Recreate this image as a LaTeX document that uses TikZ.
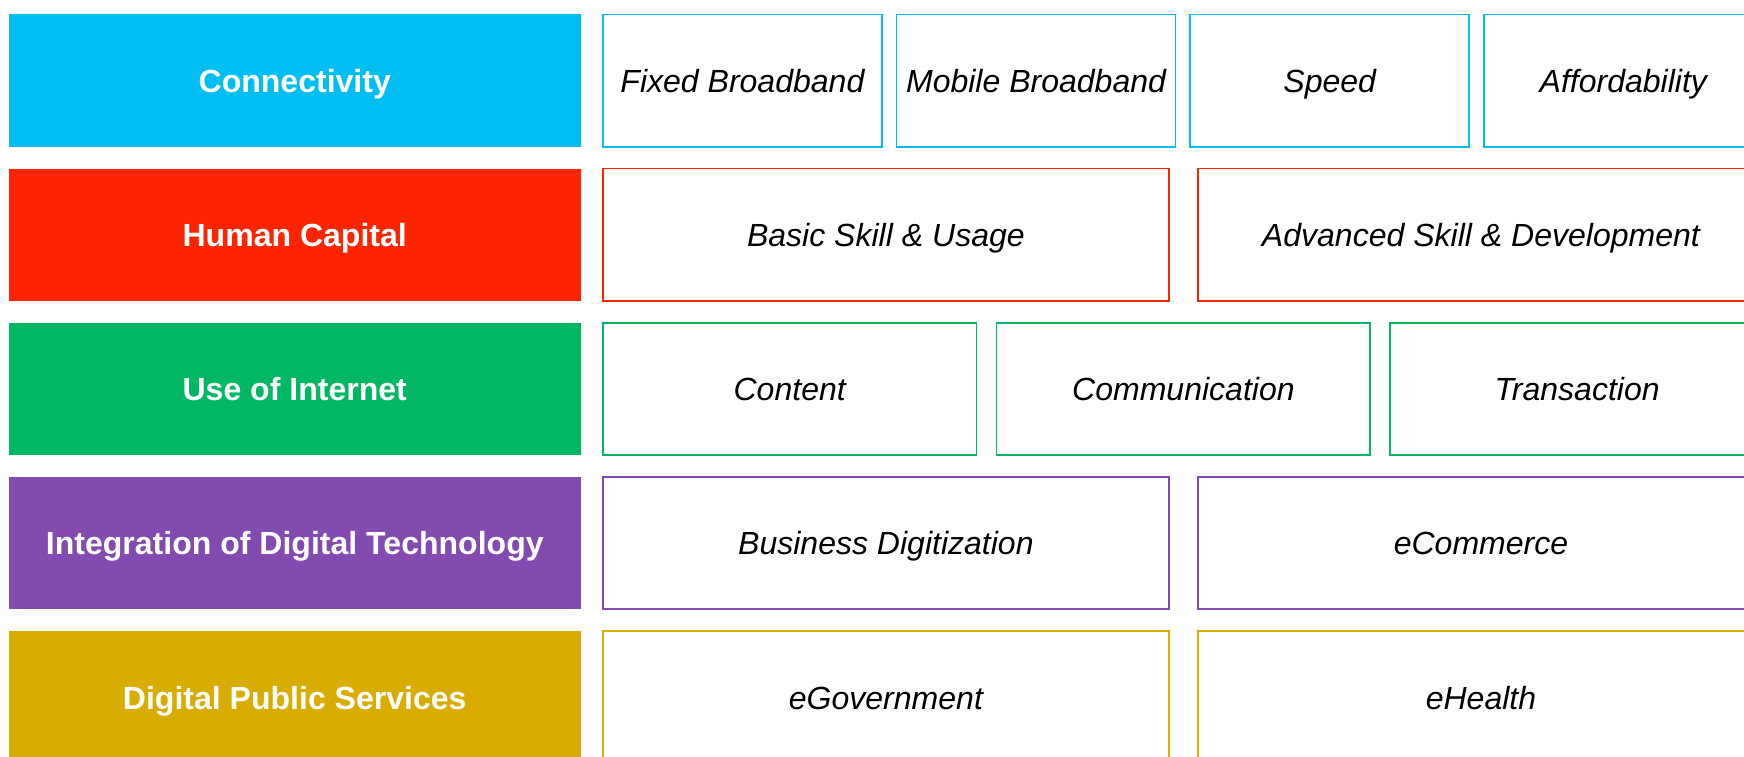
\documentclass[tikz,border=0pt]{standalone}
\usepackage{fontspec}
\setmainfont{Liberation Sans}
\definecolor{ConnClr}{RGB}{0,190,242}
\definecolor{HumClr}{RGB}{255,36,0}
\definecolor{UseClr}{RGB}{0,184,100}
\definecolor{IntClr}{RGB}{131,74,175}
\definecolor{PubClr}{RGB}{217,172,0}

\begin{document}
\begin{tikzpicture}[x=0.5pt,y=-0.5pt,
  font=\fontsize{14.4}{17}\selectfont,
  dimension/.style={fill=#1,text=white,font=\fontsize{14.4}{17}\selectfont\bfseries,
    minimum width=257pt,minimum height=59.5pt,inner sep=0pt,
    text height=10.6pt,text depth=0pt},
  indicator/.style={draw=#1,fill=white,line width=0.75pt,
    minimum height=59.5pt,inner sep=0pt,font=\fontsize{14.4}{17}\selectfont\itshape,
    text height=10.6pt,text depth=0pt},
  narrow/.style={minimum width=125.5pt},
  middle/.style={minimum width=168pt},
  wide/.style={minimum width=254.5pt}]
\useasboundingbox (0,0) rectangle (1568,680);
\clip (0,0) rectangle (1568,680);

% dimensions
\node[dimension=ConnClr] (conn) at (265,72.5) {Connectivity};
\node[dimension=HumClr]  (hum)  at (265,211.1) {Human Capital};
\node[dimension=UseClr]  (use)  at (265,349.7) {Use of Internet};
\node[dimension=IntClr]  (int)  at (265,488.3) {Integration of Digital Technology};
\node[dimension=PubClr]  (pub)  at (265,626.9) {Digital Public Services};

% connectivity
\node[indicator=ConnClr,narrow] (fixed)  at (667.5,72.5)  {Fixed Broadband};
\node[indicator=ConnClr,narrow] (mobile) at (931.5,72.5)  {Mobile Broadband};
\node[indicator=ConnClr,narrow] (speed)  at (1195.5,72.5) {Speed};
\node[indicator=ConnClr,narrow] (afford) at (1459.5,72.5) {Affordability};

% human capital
\node[indicator=HumClr,wide] (basic) at (796.5,211.1)  {Basic Skill \& Usage};
\node[indicator=HumClr,wide] (adv)   at (1331.5,211.1) {Advanced Skill \& Development};

% use of internet
\node[indicator=UseClr,middle] (content) at (710,349.7)  {Content};
\node[indicator=UseClr,middle] (comm)    at (1064,349.7) {Communication};
\node[indicator=UseClr,middle] (trans)   at (1418,349.7) {Transaction};

% integration of digital technology
\node[indicator=IntClr,wide] (busdig) at (796.5,488.3)  {Business Digitization};
\node[indicator=IntClr,wide] (ecom)   at (1331.5,488.3) {eCommerce};

% digital public services
\node[indicator=PubClr,wide] (egov)    at (796.5,626.9)  {eGovernment};
\node[indicator=PubClr,wide] (ehealth) at (1331.5,626.9) {eHealth};

\end{tikzpicture}
\end{document}
